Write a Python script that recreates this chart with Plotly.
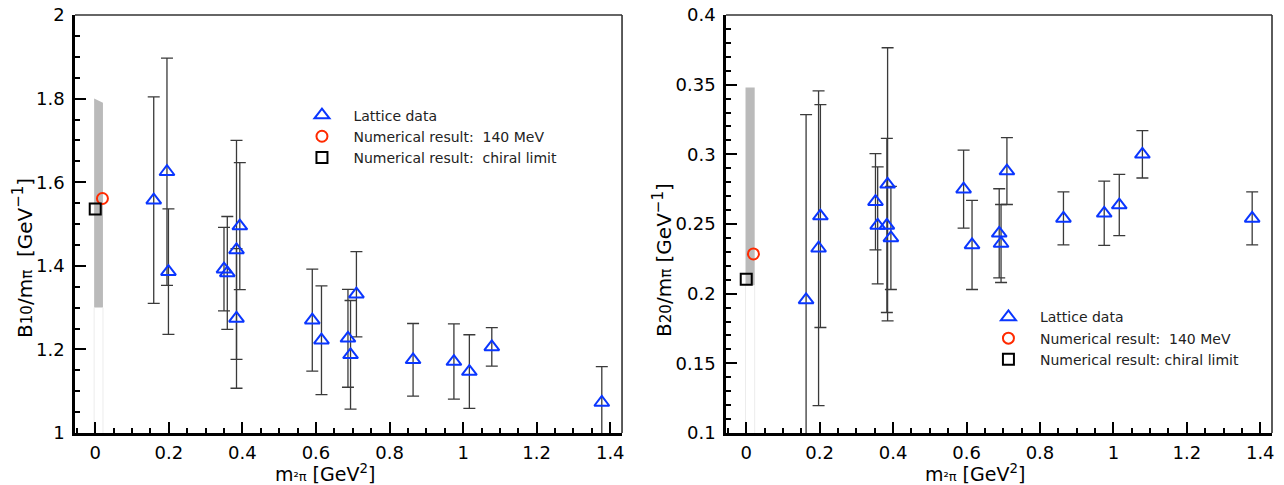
import plotly.graph_objects as go

# ---------------- data: B10 / m_pi (left panel) ----------------
x_b10 = [0.159, 0.195, 0.199, 0.350, 0.359, 0.384, 0.384, 0.393, 0.590,
         0.615, 0.687, 0.694, 0.710, 0.864, 0.975, 1.017, 1.078, 1.377]
y_b10 = [1.557, 1.625, 1.386, 1.392, 1.383, 1.438, 1.274, 1.495, 1.270,
         1.222, 1.2265, 1.187, 1.332, 1.175, 1.171, 1.147, 1.206, 1.073]
e_b10 = [0.247, 0.272, 0.150, 0.100, 0.135, 0.262, 0.167, 0.152, 0.122,
         0.130, 0.117, 0.130, 0.102, 0.087, 0.090, 0.088, 0.046, 0.086]
phys_b10 = (0.0196, 1.561)     # numerical result at 140 MeV
chiral_b10 = (0.0, 1.536)      # numerical result, chiral limit
band_b10_x = [-0.003, 0.021, 0.021, -0.003]
band_b10_y = [1.80, 1.79, 1.30, 1.30]
band_b10_low = 1.0

# ---------------- data: B20 / m_pi (right panel) ----------------
x_b20 = [0.163, 0.197, 0.202, 0.352, 0.358, 0.383, 0.385, 0.394, 0.592,
         0.615, 0.689, 0.694, 0.710, 0.864, 0.975, 1.016, 1.079, 1.378]
y_b20 = [0.1955, 0.2326, 0.2557, 0.266, 0.249, 0.249, 0.2785, 0.240, 0.275,
         0.235, 0.2433, 0.236, 0.288, 0.254, 0.2577, 0.2636, 0.300, 0.254]
e_b20 = [0.133, 0.113, 0.080, 0.0345, 0.042, 0.0625, 0.098, 0.037, 0.028,
         0.032, 0.032, 0.028, 0.024, 0.019, 0.023, 0.022, 0.017, 0.019]
phys_b20 = (0.0196, 0.2285)
chiral_b20 = (0.0, 0.2103)
band_b20_x = [-0.002, 0.023, 0.023, -0.002]
band_b20_y = [0.348, 0.348, 0.206, 0.206]
band_b20_low = 0.1

x_ticks = [0, 0.2, 0.4, 0.6, 0.8, 1.0, 1.2, 1.4]
x_range = [-0.055, 1.432]
y_range_b10 = [1.0, 2.0]
y_range_b20 = [0.1, 0.4]

leg_lattice = "Lattice data"
leg_phys = "Numerical result:\u00a0 140 MeV"
leg_chiral_left = "Numerical result:\u00a0 chiral limit"
leg_chiral_right = "Numerical result: chiral limit"

SMALL = "<span style='font-size:15px'>{}</span>"
SMALLX = "<span style='font-size:13px'>{}</span>"
ytitle_b10 = ("B" + SMALL.format("10") + "/m" + SMALL.format("π") +
              "\u00a0 [GeV<sup>" + SMALL.format("−1") + "</sup>]")
ytitle_b20 = ("B" + SMALL.format("20") + "/m" + SMALL.format("π") +
              " [GeV<sup>" + SMALL.format("−1") + "</sup>]")
xtitle = "m" + SMALLX.format("²π") + " [GeV<sup>2</sup>]"

BLUE = "#0a36ff"
RED = "#ff2a00"
TICK_FONT = dict(family="DejaVu Sans", size=18, color="black")
YTITLE_FONT = dict(family="DejaVu Sans", size=20, color="black")
XTITLE_FONT = dict(family="DejaVu Sans", size=19, color="black")
LEG_FONT = dict(family="DejaVu Sans", size=14, color="#222")

fig = go.Figure()


def add_panel(xa, ya, legend, bx, by, blow, xs, ys, es, phys, chiral, chiral_name):
    # grey band
    fig.add_trace(go.Scatter(x=bx, y=by, fill="toself", fillcolor="#bababa",
                             mode="lines", line=dict(width=0, color="#bababa"),
                             xaxis=xa, yaxis=ya, showlegend=False, hoverinfo="skip"))
    fig.add_trace(go.Scatter(x=[bx[0], bx[0], None, bx[1], bx[1]],
                             y=[by[3], blow, None, by[2], blow],
                             mode="lines", line=dict(width=1, color="#ececec"),
                             xaxis=xa, yaxis=ya, showlegend=False, hoverinfo="skip"))
    fig.add_trace(go.Scatter(x=xs, y=ys, mode="markers", name=leg_lattice,
                             error_y=dict(type="data", array=es, visible=True,
                                          color="#3a3a3a", thickness=1.3, width=6),
                             marker=dict(symbol="triangle-up-open", size=13,
                                         color=BLUE, line=dict(width=2, color=BLUE)),
                             xaxis=xa, yaxis=ya, legend=legend))
    fig.add_trace(go.Scatter(x=[phys[0]], y=[phys[1]], mode="markers", name=leg_phys,
                             marker=dict(symbol="circle-open", size=11,
                                         color=RED, line=dict(width=2, color=RED)),
                             xaxis=xa, yaxis=ya, legend=legend))
    fig.add_trace(go.Scatter(x=[chiral[0]], y=[chiral[1]], mode="markers", name=chiral_name,
                             marker=dict(symbol="square-open", size=11,
                                         color="black", line=dict(width=2, color="black")),
                             xaxis=xa, yaxis=ya, legend=legend))


add_panel("x", "y", "legend", band_b10_x, band_b10_y, band_b10_low,
          x_b10, y_b10, e_b10, phys_b10, chiral_b10, leg_chiral_left)
add_panel("x2", "y2", "legend2", band_b20_x, band_b20_y, band_b20_low,
          x_b20, y_b20, e_b20, phys_b20, chiral_b20, leg_chiral_right)

axis_common = dict(showline=True, linewidth=2.5, linecolor="black", ticks="inside",
                   ticklen=11, tickwidth=2, tickcolor="black", showgrid=False,
                   zeroline=False, tickfont=TICK_FONT, automargin=False,
                   ticklabeloverflow="allow")

xaxis_cfg = dict(axis_common, range=x_range, tickvals=x_ticks, ticklabelstandoff=2,
                 minor=dict(ticks="inside", ticklen=5, tickwidth=1.5, dtick=0.05,
                            tickcolor="black", showgrid=False))

fig.update_layout(
    width=1276, height=477,
    margin=dict(l=67, r=12, t=7, b=52),
    paper_bgcolor="white", plot_bgcolor="white",
    xaxis=dict(xaxis_cfg, domain=[0, 0.457], anchor="y"),
    xaxis2=dict(xaxis_cfg, domain=[0.5439, 1.0], anchor="y2"),
    yaxis=dict(axis_common, range=y_range_b10, dtick=0.2, domain=[0, 1], anchor="x",
               ticklabelstandoff=4,
               minor=dict(ticks="inside", ticklen=5, tickwidth=1.5, dtick=0.05,
                          tickcolor="black", showgrid=False)),
    yaxis2=dict(axis_common, range=y_range_b20, dtick=0.05, domain=[0, 1], anchor="x2",
                ticklabelstandoff=4,
                minor=dict(ticks="inside", ticklen=5, tickwidth=1.5, dtick=0.01,
                           tickcolor="black", showgrid=False)),
    legend=dict(x=0.18, y=0.798, xanchor="left", yanchor="top", font=LEG_FONT,
                bgcolor="rgba(0,0,0,0)", itemwidth=53),
    legend2=dict(x=0.7535, y=0.315, xanchor="left", yanchor="top", font=LEG_FONT,
                 bgcolor="rgba(0,0,0,0)", itemwidth=53),
    showlegend=True,
)

# frame: thinner top/right lines
for xd, yd in (("x domain", "y domain"), ("x2 domain", "y2 domain")):
    fig.add_shape(type="line", xref=xd, yref=yd, x0=0, x1=1, y0=1, y1=1,
                  line=dict(color="#333", width=1.6))
    fig.add_shape(type="line", xref=xd, yref=yd, x0=1, x1=1, y0=0, y1=1,
                  line=dict(color="#333", width=1.6))

# axis titles
title_kw = dict(xref="paper", yref="paper", showarrow=False,
                xanchor="center", yanchor="middle")
fig.add_annotation(text=ytitle_b10, x=-0.0434, y=0.419, textangle=-90,
                   font=YTITLE_FONT, **title_kw)
fig.add_annotation(text=ytitle_b20, x=0.4912, y=0.414, textangle=-90,
                   font=YTITLE_FONT, **title_kw)
fig.add_annotation(text=xtitle, x=0.2089, y=-0.096, font=XTITLE_FONT, **title_kw)
fig.add_annotation(text=xtitle, x=0.7519, y=-0.096, font=XTITLE_FONT, **title_kw)

fig.write_html("out.html")
